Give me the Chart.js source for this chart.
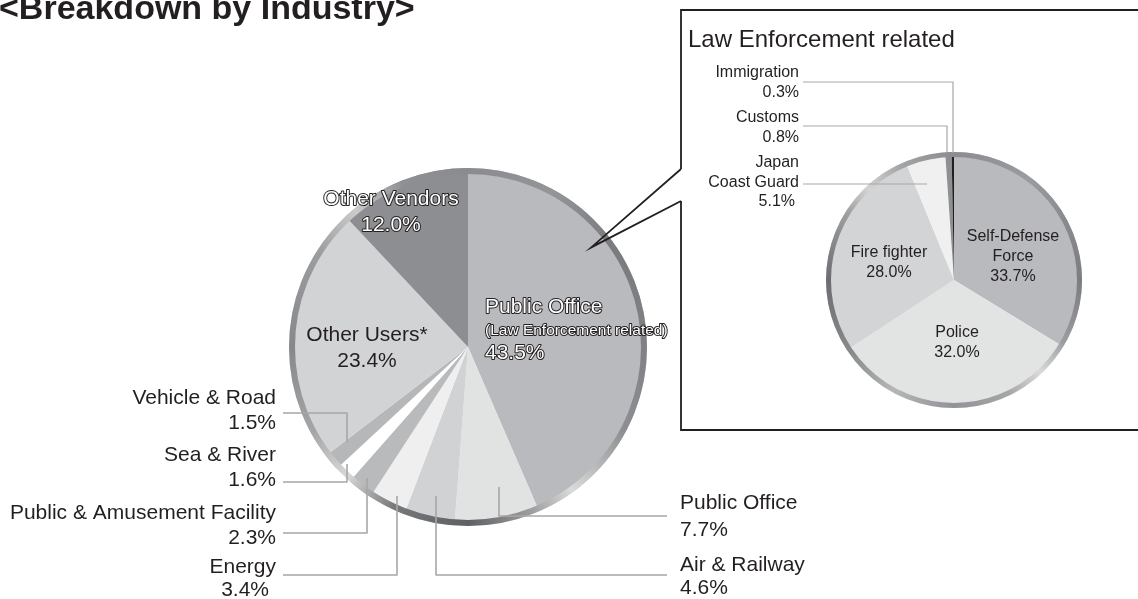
<!DOCTYPE html>
<html>
<head>
<meta charset="utf-8">
<script src="https://cdn.jsdelivr.net/npm/chart.js@4.4.0/dist/chart.umd.min.js"></script>
<style>
  html, body { margin: 0; padding: 0; background: #fff; }
  #wrap { position: relative; width: 1138px; height: 599px; overflow: hidden; }
  #wrap canvas { position: absolute; left: 0; top: 0; }
</style>
</head>
<body>
<div id="wrap">
  <canvas id="graphMain" width="1138" height="599"></canvas>
  <canvas id="graphLaw" width="1138" height="599"></canvas>
</div>
<script>
// dados do grafico principal (por industria)
const mainCategories = [
  ['Public Office', '(Law Enforcement related)'],
  ['Public Office'],
  ['Air & Railway'],
  ['Energy'],
  ['Public & Amusement Facility'],
  ['Sea & River'],
  ['Vehicle & Road'],
  ['Other Users*'],
  ['Other Vendors']
];
const mainValues = [43.5, 7.7, 4.6, 3.4, 2.3, 1.6, 1.5, 23.4, 12.0];
const mainColors = ['#b9babd', '#e1e2e2', '#d1d2d4', '#efefef', '#b9babc', '#ffffff', '#b6b7b9', '#d2d3d5', '#8d8e91'];

// dados do detalhe (Law Enforcement related)
const lawCategories = [
  ['Self-Defense', 'Force'],
  ['Police'],
  ['Fire fighter'],
  ['Japan', 'Coast Guard'],
  ['Customs'],
  ['Immigration']
];
const lawValues = [33.7, 32.0, 28.0, 5.1, 0.8, 0.3];
const lawColors = ['#b9babd', '#e2e3e3', '#d3d4d6', '#f0f0f0', '#8e8f92', '#231f20'];

const TXT = '#231f20';
const LEADER = '#a7a7a7';
const FONT = '"Liberation Sans", Arial, Helvetica, sans-serif';

// posicao dos rotulos (layout), por indice da fatia
const mainLayout = [
  { x: 485, ys: [307, 331, 353], sizes: [21, 15.5, 21], align: 'left', outline: true },
  { x: 680, ys: [503, 530], align: 'left', line: [[499, 487], [499, 516], [667, 516]] },
  { x: 680, ys: [565, 588], align: 'left', line: [[436, 496], [436, 575], [667, 575]] },
  { x: 276, ys: [567, 590], xs: [276, 269], align: 'right', line: [[283, 575], [397, 575], [397, 496]] },
  { x: 276, ys: [513, 538], align: 'right', line: [[283, 533], [367, 533], [367, 478]] },
  { x: 276, ys: [455, 480], align: 'right', line: [[283, 482], [347, 482], [347, 464]] },
  { x: 276, ys: [398, 423], align: 'right', line: [[283, 413], [347, 413], [347, 442]] },
  { x: 367, ys: [335, 361], align: 'center' },
  { x: 391, ys: [199, 225], align: 'center', outline: true }
];
const lawLayout = [
  { x: 1013, ys: [237, 257, 277], align: 'center' },
  { x: 957, ys: [333, 353], align: 'center' },
  { x: 889, ys: [253, 273], align: 'center' },
  { x: 799, ys: [163, 183, 202], xs: [799, 799, 795], align: 'right', line: [[803, 184], [927, 184]] },
  { x: 799, ys: [118, 138], align: 'right', line: [[803, 126], [947, 126], [947, 153]] },
  { x: 799, ys: [73, 93], align: 'right', line: [[803, 82], [953, 82], [953, 153]] }
];

// aro metalico em volta da pizza
const mainRing = [[0, '#8a8b8e'], [0.08, '#949598'], [0.15, '#7a7b7e'], [0.25, '#808184'], [0.33, '#8e8f92'],
  [0.40, '#dadada'], [0.44, '#a0a0a2'], [0.50, '#5f6063'], [0.57, '#78797b'], [0.62, '#d8d8d8'],
  [0.67, '#a5a6a8'], [0.75, '#87888b'], [0.84, '#9c9d9f'], [0.89, '#cbcbcb'], [0.94, '#8f9093'], [1, '#8a8b8e']];
const lawRing = [[0, '#8b8c8f'], [0.10, '#9a9b9e'], [0.17, '#8a8b8e'], [0.25, '#7c7d80'], [0.33, '#9a9b9d'],
  [0.38, '#dadada'], [0.43, '#a4a5a7'], [0.50, '#929396'], [0.58, '#b5b6b8'], [0.65, '#8a8b8d'],
  [0.75, '#6c6d70'], [0.84, '#9fa0a2'], [0.88, '#d4d4d4'], [0.93, '#a3a4a6'], [1, '#8b8c8f']];

const polyline = (ctx, pts, color, width) => {
  ctx.save();
  ctx.strokeStyle = color;
  ctx.lineWidth = width;
  ctx.beginPath();
  pts.forEach((p, i) => i ? ctx.lineTo(p[0], p[1]) : ctx.moveTo(p[0], p[1]));
  ctx.stroke();
  ctx.restore();
};

const drawLabels = (ctx, categories, values, layout, baseSize) => {
  ctx.save();
  ctx.textBaseline = 'middle';
  categories.forEach((cat, i) => {
    const L = layout[i];
    if (L.line) polyline(ctx, L.line, LEADER, baseSize > 18 ? 1.6 : 1.2);
    const lines = cat.concat([values[i].toFixed(1) + '%']);
    lines.forEach((t, j) => {
      const size = L.sizes ? L.sizes[j] : baseSize;
      const x = L.xs ? L.xs[j] : L.x;
      ctx.font = size + 'px ' + FONT;
      ctx.textAlign = L.align;
      if (L.outline) {
        ctx.lineJoin = 'round';
        ctx.lineWidth = 2;
        ctx.strokeStyle = TXT;
        ctx.strokeText(t, x, L.ys[j]);
        ctx.fillStyle = '#ffffff';
      } else {
        ctx.fillStyle = TXT;
      }
      ctx.fillText(t, x, L.ys[j]);
    });
  });
  ctx.restore();
};

const ringPlugin = {
  id: 'ring',
  afterDatasetsDraw(chart, args, opts) {
    const arc = chart.getDatasetMeta(0).data[0];
    const ctx = chart.ctx;
    const g = ctx.createConicGradient(-Math.PI / 2, arc.x, arc.y);
    opts.stops.forEach(s => g.addColorStop(s[0], s[1]));
    ctx.save();
    ctx.strokeStyle = g;
    ctx.lineWidth = opts.width;
    ctx.beginPath();
    ctx.arc(arc.x, arc.y, arc.outerRadius - opts.width / 2, 0, Math.PI * 2);
    ctx.stroke();
    ctx.restore();
  }
};

const mainDecor = {
  id: 'mainDecor',
  beforeDraw(chart) {
    const ctx = chart.ctx;
    ctx.save();
    ctx.fillStyle = '#ffffff';
    ctx.fillRect(0, 0, chart.width, chart.height);
    // titulo
    ctx.fillStyle = TXT;
    ctx.font = 'bold 34px ' + FONT;
    ctx.textBaseline = 'alphabetic';
    ctx.textAlign = 'left';
    ctx.fillText('<Breakdown by Industry>', -1, 19);
    // caixa do detalhe com a chamada
    ctx.strokeStyle = TXT;
    ctx.lineWidth = 1.8;
    ctx.beginPath();
    ctx.moveTo(681, 169);
    ctx.lineTo(681, 10);
    ctx.lineTo(1140, 10);
    ctx.moveTo(1140, 430);
    ctx.lineTo(681, 430);
    ctx.lineTo(681, 201);
    ctx.stroke();
    ctx.restore();
  },
  afterDraw(chart) {
    const ctx = chart.ctx;
    const a = chart.getDatasetMeta(0).data[0];
    // ponta da chamada dentro da fatia
    const ang = a.startAngle + (a.endAngle - a.startAngle) * 0.326;
    const tip = [a.x + Math.cos(ang) * a.outerRadius * 0.885, a.y + Math.sin(ang) * a.outerRadius * 0.885];
    polyline(ctx, [[681, 169], tip, [681, 201]], TXT, 1.8);
    ctx.save();
    ctx.fillStyle = TXT;
    ctx.font = '24px ' + FONT;
    ctx.textBaseline = 'alphabetic';
    ctx.fillText('Law Enforcement related', 688, 47);
    ctx.restore();
    drawLabels(ctx, mainCategories, mainValues, mainLayout, 21);
  }
};

const lawDecor = {
  id: 'lawDecor',
  afterDraw(chart) {
    drawLabels(chart.ctx, lawCategories, lawValues, lawLayout, 16);
  }
};

const pieOptions = (padding, ring) => ({
  responsive: false,
  animation: false,
  events: [],
  layout: { padding: padding },
  plugins: {
    legend: { display: false },
    tooltip: { enabled: false },
    ring: ring
  }
});

new Chart(document.getElementById('graphMain').getContext('2d'), {
  type: 'pie',
  data: {
    labels: mainCategories,
    datasets: [{ data: mainValues, backgroundColor: mainColors, borderWidth: 0, hoverOffset: 0 }]
  },
  options: pieOptions({ left: 289, top: 168, right: 491, bottom: 73 }, { width: 6, stops: mainRing }),
  plugins: [mainDecor, ringPlugin]
});

new Chart(document.getElementById('graphLaw').getContext('2d'), {
  type: 'pie',
  data: {
    labels: lawCategories,
    datasets: [{ data: lawValues, backgroundColor: lawColors, borderWidth: 0, hoverOffset: 0 }]
  },
  options: pieOptions({ left: 826, top: 152, right: 56, bottom: 191 }, { width: 5, stops: lawRing }),
  plugins: [lawDecor, ringPlugin]
});
</script>
</body>
</html>
